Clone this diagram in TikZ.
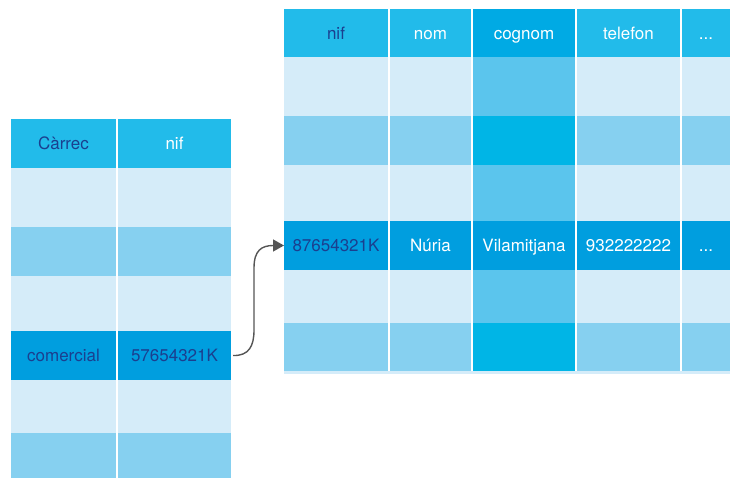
\documentclass[tikz,border=0pt]{standalone}
\usepackage{fontspec}
\setmainfont{TeX Gyre Heros}
\usetikzlibrary{arrows.meta,calc}

\definecolor{hdr}{HTML}{22BBEA}
\definecolor{hdrkey}{HTML}{00AAE4}
\definecolor{rowlight}{HTML}{D5ECF9}
\definecolor{rowmid}{HTML}{86D0F0}
\definecolor{rowsel}{HTML}{009EDF}
\definecolor{keylight}{HTML}{5BC5ED}
\definecolor{keymid}{HTML}{00B5E6}
\definecolor{navy}{HTML}{1B3F8F}
\definecolor{linkgray}{HTML}{555555}

% \cell{name}{x1}{x2}{y1}{y2}{fill}{text colour}{text}
\newcommand{\cell}[8]{%
  \node[cellbox, fill=#6, text=#7,
        minimum width={#3pt-#2pt}, minimum height={#5pt-#4pt}]
    (#1) at ({(#2+#3)/2},{(#4+#5)/2}) {#8};}

\begin{document}
\begin{tikzpicture}[x=1pt,y=-1pt,
  cellbox/.style={rectangle, draw=none, inner sep=0pt, outer sep=0pt,
    font=\fontsize{17}{19}\selectfont, text height=12.4pt, text depth=0pt},
  link/.style={draw=linkgray, line width=1.4pt,
    -{Triangle[length=11pt,width=12pt]}}]
\useasboundingbox (0,0) rectangle (730,478);

% ---- left table: Càrrec / nif ----
\cell{lh1}{11}{116}{119}{168}{hdr}{navy}{Càrrec}
\cell{lh2}{118}{231}{119}{168}{hdr}{white}{nif}
\cell{l11}{11}{116}{168}{227}{rowlight}{navy}{}
\cell{l12}{118}{231}{168}{227}{rowlight}{navy}{}
\cell{l21}{11}{116}{227}{276}{rowmid}{navy}{}
\cell{l22}{118}{231}{227}{276}{rowmid}{navy}{}
\cell{l31}{11}{116}{276}{331}{rowlight}{navy}{}
\cell{l32}{118}{231}{276}{331}{rowlight}{navy}{}
\cell{l41}{11}{116}{331}{380}{rowsel}{navy}{comercial}
\cell{l42}{118}{231}{331}{380}{rowsel}{navy}{57654321K}
\cell{l51}{11}{116}{380}{433}{rowlight}{navy}{}
\cell{l52}{118}{231}{380}{433}{rowlight}{navy}{}
\cell{l61}{11}{116}{433}{478}{rowmid}{navy}{}
\cell{l62}{118}{231}{433}{478}{rowmid}{navy}{}

% ---- right table: nif / nom / cognom / telefon / ... ----
\cell{rh1}{284}{388}{9}{57}{hdr}{navy}{nif}
\cell{rh2}{390}{471}{9}{57}{hdr}{white}{nom}
\cell{rh3}{473}{575}{9}{57}{hdrkey}{white}{cognom}
\cell{rh4}{577}{680}{9}{57}{hdr}{white}{telefon}
\cell{rh5}{682}{730}{9}{57}{hdr}{white}{...}

\cell{r11}{284}{388}{57}{116}{rowlight}{navy}{}
\cell{r12}{390}{471}{57}{116}{rowlight}{white}{}
\cell{r13}{473}{575}{57}{116}{keylight}{white}{}
\cell{r14}{577}{680}{57}{116}{rowlight}{white}{}
\cell{r15}{682}{730}{57}{116}{rowlight}{white}{}

\cell{r21}{284}{388}{116}{165}{rowmid}{navy}{}
\cell{r22}{390}{471}{116}{165}{rowmid}{white}{}
\cell{r23}{473}{575}{116}{165}{keymid}{white}{}
\cell{r24}{577}{680}{116}{165}{rowmid}{white}{}
\cell{r25}{682}{730}{116}{165}{rowmid}{white}{}

\cell{r31}{284}{388}{165}{221}{rowlight}{navy}{}
\cell{r32}{390}{471}{165}{221}{rowlight}{white}{}
\cell{r33}{473}{575}{165}{221}{keylight}{white}{}
\cell{r34}{577}{680}{165}{221}{rowlight}{white}{}
\cell{r35}{682}{730}{165}{221}{rowlight}{white}{}

\cell{r41}{284}{388}{221}{270}{rowsel}{navy}{87654321K}
\cell{r42}{390}{471}{221}{270}{rowsel}{white}{Núria}
\cell{r43}{473}{575}{221}{270}{rowsel}{white}{Vilamitjana}
\cell{r44}{577}{680}{221}{270}{rowsel}{white}{932222222}
\cell{r45}{682}{730}{221}{270}{rowsel}{white}{...}

\cell{r51}{284}{388}{270}{323}{rowlight}{navy}{}
\cell{r52}{390}{471}{270}{323}{rowlight}{white}{}
\cell{r53}{473}{575}{270}{323}{keylight}{white}{}
\cell{r54}{577}{680}{270}{323}{rowlight}{white}{}
\cell{r55}{682}{730}{270}{323}{rowlight}{white}{}

\cell{r61}{284}{388}{323}{371}{rowmid}{navy}{}
\cell{r62}{390}{471}{323}{371}{rowmid}{white}{}
\cell{r63}{473}{575}{323}{371}{keymid}{white}{}
\cell{r64}{577}{680}{323}{371}{rowmid}{white}{}
\cell{r65}{682}{730}{323}{371}{rowmid}{white}{}

% thin pale edge under the right table
\fill[rowlight] (r61.south west) rectangle ($(r65.south east)+(0,3)$);

% foreign key link
\coordinate (fkstart) at ($(l42.east)+(2,0)$);
\draw[link] (fkstart) .. controls (249,356) and (254,346) .. (254,330)
  -- (254,268) .. controls (254,250) and (262,245.5) .. (r41.west);
\end{tikzpicture}
\end{document}
